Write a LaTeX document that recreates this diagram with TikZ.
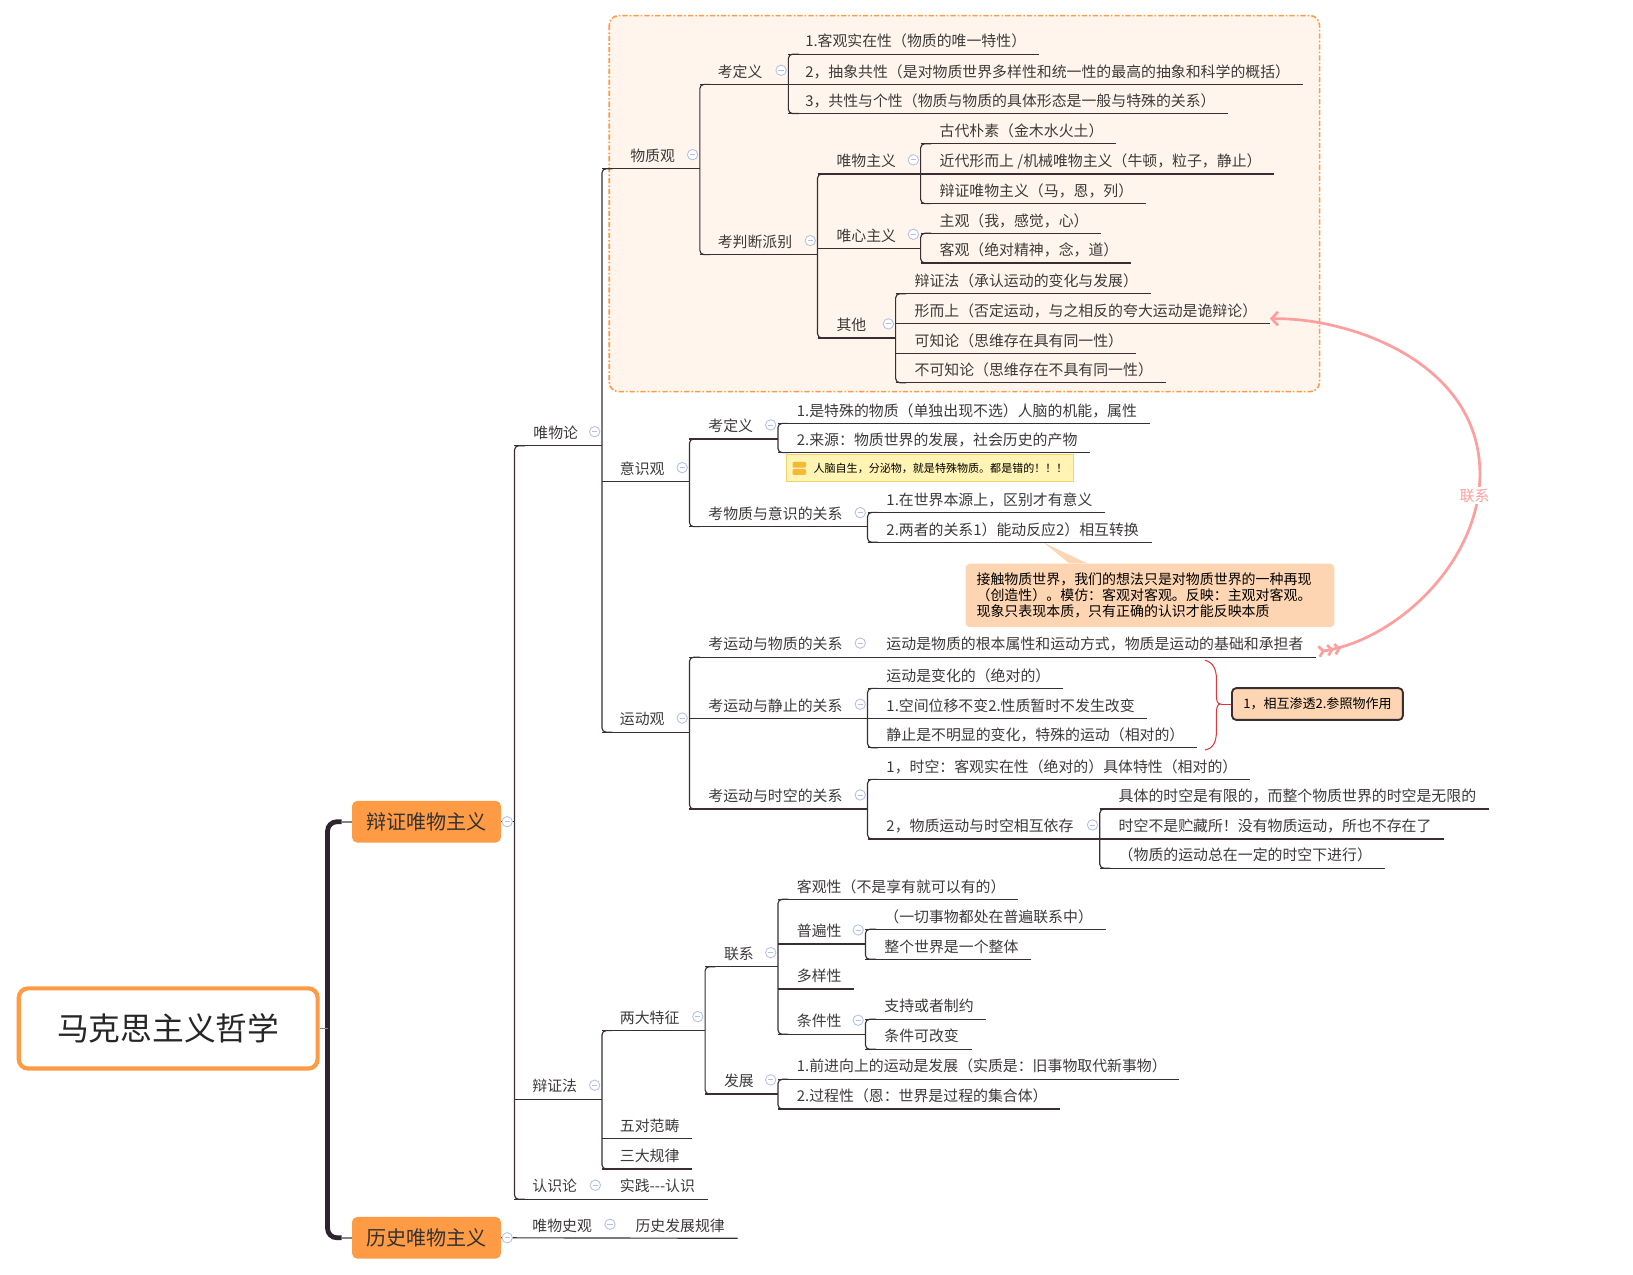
\documentclass[tikz,border=0pt]{standalone}
\usepackage{fontspec}
\newfontfamily\cjk{Noto Sans CJK SC}
\usetikzlibrary{arrows.meta}
\definecolor{orangeB}{HTML}{FF9A45}
\definecolor{dashfill}{HTML}{FFF5EC}
\definecolor{txt}{HTML}{3E3A3A}
\definecolor{lc}{HTML}{3A2E33}
\definecolor{cc}{HTML}{B3BFE3}
\definecolor{calfill}{HTML}{FDD5B2}
\definecolor{notefill}{HTML}{FFF4B3}
\definecolor{noteline}{HTML}{F2D36B}
\definecolor{noteicon}{HTML}{F5B935}
\definecolor{pinkc}{HTML}{FF9E9E}
\definecolor{bracec}{HTML}{E5353B}
\definecolor{thickc}{HTML}{2E2430}
\definecolor{grayc}{HTML}{8A8088}
\tikzset{
  topic/.style={font=\cjk\fontsize{14.3}{17}\selectfont, text=txt, inner sep=0pt, anchor=base west},
  uline/.style={draw=lc, line width=1.1pt},
  vline/.style={draw=lc, line width=1.1pt, rounded corners=4pt},
  gline/.style={draw=grayc, line width=1.5pt},
  coll/.style={circle, draw=cc, line width=0.8pt, minimum size=10pt, inner sep=0pt, fill=white,
    path picture={\draw[cc, line width=0.8pt] ([xshift=2.5pt]path picture bounding box.west) -- ([xshift=-2.5pt]path picture bounding box.east);}},
  rootbox/.style={draw=orangeB, line width=4pt, fill=white, rounded corners=9pt, minimum width=287pt, minimum height=77pt,
    font=\cjk\fontsize{30.5}{34}\selectfont, text=black!85},
  bigbox/.style={fill=orangeB, rounded corners=5pt, minimum width=143pt, minimum height=40pt,
    font=\cjk\fontsize{19.3}{22}\selectfont, text=black!80},
  dashbox/.style={draw=orangeB, fill=dashfill, line width=1.5pt, rounded corners=9pt, dash pattern=on 5pt off 2pt on 1.5pt off 2pt},
  callout/.style={fill=calfill, rounded corners=4pt, anchor=north west, minimum height=61pt, inner xsep=10.5pt,
    text width=333pt, align=left, font=\cjk\fontsize{13.4}{15.3}\selectfont, text=black},
  sumbox/.style={fill=calfill, draw=lc, line width=1.8pt, rounded corners=4pt, minimum width=164pt, minimum height=30.5pt,
    font=\cjk\fontsize{12.5}{15}\selectfont, text=black},
  notebox/.style={fill=notefill, draw=noteline, line width=0.8pt, anchor=north west, minimum width=275pt, minimum height=26pt, inner sep=0pt},
}
\newcommand\mmLeaf[5]{%
  \node[topic] (#1) at (#2,#3-7) {#5};
  \draw[uline] (#4,#3) -- ([xshift=12pt,yshift=-7pt]#1.base east) coordinate (#1e);
}
\newcommand\mmPar[6]{%
  \node[topic] (#1) at (#2,#3-7) {#6};
  \draw[uline] (#4,#3) -- (#5,#3);
  \node[coll] (#1c) at (#5-7,#3-13.5) {};
}
\newcommand\mmBr[3]{%
  \draw[vline] (#1+10,#2) -- (#1,#2) -- (#1,#3) -- (#1+10,#3);
}
\begin{document}
\begin{tikzpicture}[x=1pt,y=-1pt]
\useasboundingbox (0,0) rectangle (1568,1224);
\fill[white] (0,0) rectangle (1568,1224);

% dashed background region
\draw[dashbox] (585,15) rectangle (1267,376);

% root and main boxes
\node[rootbox] (root) at (161.5,987.5) {马克思主义哲学};
\node[bigbox] (dm) at (409.5,789) {辩证唯物主义};
\node[bigbox] (hm) at (409.5,1188.5) {历史唯物主义};
\draw[draw=thickc, line width=4.6pt, rounded corners=9pt] (328,789) -- (314.5,789) -- (314.5,1188.5) -- (328,1188.5);
\draw[gline] (root.east) -- (314.5,987.5);
\draw[gline] (328,789) -- (dm.west);
\draw[gline] (328,1188.5) -- (hm.west);

% 辩证唯物主义 branch
\draw[uline] (dm.east) -- (494,789);
\node[coll] (dmc) at (487,789) {};
\mmBr{494}{428}{1151.5}

\mmPar{wwl}{512}{428}{494}{578}{唯物论}
\mmBr{578}{162}{703}

% 物质观
\mmPar{wzg}{605}{162}{578}{672}{物质观}
\mmBr{672}{81}{244.5}
\mmPar{kdya}{689}{81}{672}{757}{考定义}
\mmBr{757}{52}{109}
\mmLeaf{a1}{773}{52}{757}{1.客观实在性（物质的唯一特性）}
\mmLeaf{a2}{773}{81}{757}{2，抽象共性（是对物质世界多样性和统一性的最高的抽象和科学的概括）}
\mmLeaf{a3}{773}{109}{757}{3，共性与个性（物质与物质的具体形态是一般与特殊的关系）}
\mmPar{kpd}{689}{244.5}{672}{785}{考判断派别}
\mmBr{785}{167}{324.5}
\mmPar{wwzy}{803}{167}{785}{884}{唯物主义}
\mmBr{884}{138}{195.5}
\mmLeaf{b1}{902}{138}{884}{古代朴素（金木水火土）}
\mmLeaf{b2}{902}{167}{884}{近代形而上 /机械唯物主义（牛顿，粒子，静止）}
\mmLeaf{b3}{902}{195.5}{884}{辩证唯物主义（马，恩，列）}
\mmPar{wxzy}{803}{238.5}{785}{884}{唯心主义}
\mmBr{884}{224}{252.5}
\mmLeaf{c1}{902}{224}{884}{主观（我，感觉，心）}
\mmLeaf{c2}{902}{252.5}{884}{客观（绝对精神，念，道）}
\mmPar{qt}{803}{324.5}{785}{860}{其他}
\mmBr{860}{282}{367.5}
\mmLeaf{q1}{878}{282}{860}{辩证法（承认运动的变化与发展）}
\mmLeaf{q2}{878}{310.5}{860}{形而上（否定运动，与之相反的夸大运动是诡辩论）}
\mmLeaf{q3}{878}{339.5}{860}{可知论（思维存在具有同一性）}
\mmLeaf{q4}{878}{367.5}{860}{不可知论（思维存在不具有同一性）}

% 意识观
\mmPar{ysg}{595}{462.5}{578}{662}{意识观}
\mmBr{662}{421.5}{505.7}
\mmPar{kdyb}{680}{421.5}{662}{747}{考定义}
\mmBr{747}{406.5}{434.6}
\mmLeaf{e1}{765}{406.5}{747}{1.是特殊的物质（单独出现不选）人脑的机能，属性}
\mmLeaf{e2}{765}{434.6}{747}{2.来源：物质世界的发展，社会历史的产物}
\node[notebox] (note) at (755,436) {};
\fill[noteicon, rounded corners=1pt] (761,443.5) rectangle (774,449);
\fill[noteicon, rounded corners=1pt] (761,450.5) rectangle (774,456);
\node[anchor=west, inner sep=0pt, font=\cjk\fontsize{10.6}{12}\selectfont, text=black] (notetxt) at (781,449.5) {人脑自生，分泌物，就是特殊物质。都是错的！！！};
\mmPar{kwy}{680}{505.7}{662}{833}{考物质与意识的关系}
\mmBr{833}{492}{520.7}
\mmLeaf{f1}{851}{492}{833}{1.在世界本源上，区别才有意义}
\mmLeaf{f2}{851}{520.7}{833}{2.两者的关系1）能动反应2）相互转换}

% callout
\node[callout] (cnote) at (927,541) {接触物质世界，我们的想法只是对物质世界的一种再现\\（创造性）。模仿：客观对客观。反映：主观对客观。\\现象只表现本质，只有正确的认识才能反映本质};
\fill[calfill] (1002,521) -- ([xshift=100pt]cnote.north west) -- ([xshift=117pt]cnote.north west) -- cycle;

% 运动观
\mmPar{ydg}{595}{703}{578}{662}{运动观}
\mmBr{662}{631}{776.8}
\node[topic] (kyw) at (680,631-7) {考运动与物质的关系};
\node[coll] (kywc) at (826,617.5) {};
\node[topic] (m1) at (851,631-7) {运动是物质的根本属性和运动方式，物质是运动的基础和承担者};
\draw[uline] (662,631) -- ([xshift=12pt,yshift=-7pt]m1.base east) coordinate (m1e);
\mmPar{kyj}{680}{689.7}{662}{833}{考运动与静止的关系}
\mmBr{833}{661}{718}
\mmLeaf{j1}{851}{661}{833}{运动是变化的（绝对的）}
\mmLeaf{j2}{851}{689.7}{833}{1.空间位移不变2.性质暂时不发生改变}
\mmLeaf{j3}{851}{718}{833}{静止是不明显的变化，特殊的运动（相对的）}
\node[sumbox] (sum) at (1265,676) {1，相互渗透2.参照物作用};
\draw[bracec, line width=1pt] (1157,634) .. controls (1165,636) and (1168,643) .. (1168,652) -- (1168,668) .. controls (1168,673) and (1169,676) .. (1172,676) .. controls (1169,676) and (1168,679) .. (1168,685) -- (1168,702) .. controls (1168,712) and (1165,719) .. (1157,720);
\draw[bracec, line width=1pt] (1172,676) -- (sum.west);
\mmPar{kys}{680}{776.8}{662}{833}{考运动与时空的关系}
\mmBr{833}{748.3}{805.6}
\mmLeaf{s1}{851}{748.3}{833}{1，时空：客观实在性（绝对的）具体特性（相对的）}
\mmPar{stwo}{851}{805.6}{833}{1056}{2，物质运动与时空相互依存}
\mmBr{1056}{776.8}{833.7}
\mmLeaf{t1}{1074}{776.8}{1056}{具体的时空是有限的，而整个物质世界的时空是无限的}
\mmLeaf{t2}{1074}{805.6}{1056}{时空不是贮藏所！没有物质运动，所也不存在了}
\mmLeaf{t3}{1074}{833.7}{1056}{（物质的运动总在一定的时空下进行）}

% 辩证法
\mmPar{bzf}{511}{1055.5}{494}{578}{辩证法}
\mmBr{578}{989.6}{1122.4}
\mmPar{ldtz}{595}{989.6}{578}{677}{两大特征}
\mmBr{677}{928.2}{1050.4}
\mmPar{lx}{695}{928.2}{677}{747}{联系}
\mmBr{747}{863.5}{993.1}
\mmLeaf{g1}{765}{863.5}{747}{客观性（不是享有就可以有的）}
\mmPar{pbx}{765}{906.4}{747}{831}{普遍性}
\mmBr{831}{892.3}{921.1}
\mmLeaf{h1}{849}{892.3}{831}{（一切事物都处在普遍联系中）}
\mmLeaf{h2}{849}{921.1}{831}{整个世界是一个整体}
\mmLeaf{dyx}{765}{949.6}{747}{多样性}
\mmPar{tjx}{765}{993.1}{747}{831}{条件性}
\mmBr{831}{978.7}{1007.5}
\mmLeaf{k1}{849}{978.7}{831}{支持或者制约}
\mmLeaf{k2}{849}{1007.5}{831}{条件可改变}
\mmPar{fz}{695}{1050.4}{677}{747}{发展}
\mmBr{747}{1036.3}{1064.8}
\mmLeaf{p1}{765}{1036.3}{747}{1.前进向上的运动是发展（实质是：旧事物取代新事物）}
\mmLeaf{p2}{765}{1064.8}{747}{2.过程性（恩：世界是过程的集合体）}
\mmLeaf{wd}{595}{1093.5}{578}{五对范畴}
\mmLeaf{sd}{595}{1122.4}{578}{三大规律}

% 认识论
\node[topic] (rsl) at (511,1151.5-7) {认识论};
\node[coll] (rslc) at (571.6,1138) {};
\node[topic] (sj) at (595,1151.5-7) {实践---认识};
\draw[uline] (494,1151.5) -- ([xshift=12pt,yshift=-7pt]sj.base east) coordinate (sje);

% 历史唯物主义 branch
\node[topic] (wsg) at (511,1189-7) {唯物史观};
\node[coll] (wsgc) at (585.7,1175.5) {};
\node[topic] (lsfz) at (610,1189-7) {历史发展规律};
\draw[uline] (hm.east) -- ([xshift=12pt,yshift=-7pt]lsfz.base east) coordinate (lsfze);
\node[coll] (hmc) at (487,1188.5) {};

% relation curve
\draw[pinkc, line width=2.6pt,
  {Straight Barb[reversed,length=4pt,width=10pt,sep=1.5pt]Straight Barb[reversed,length=4pt,width=10pt,sep=1.5pt]Straight Barb[reversed,length=4pt,width=10pt]}-{Straight Barb[length=6pt,width=13pt]}]
  ([yshift=5pt]m1e) .. controls (1340,615) and (1421,540) .. (1421,455) .. controls (1421,350) and (1300,305) .. ([yshift=4.5pt]q2e);
\node[font=\cjk\fontsize{14.3}{17}\selectfont, text=pinkc, fill=white, inner sep=1.5pt] (lxl) at (1416,476) {联系};
\end{tikzpicture}
\end{document}
